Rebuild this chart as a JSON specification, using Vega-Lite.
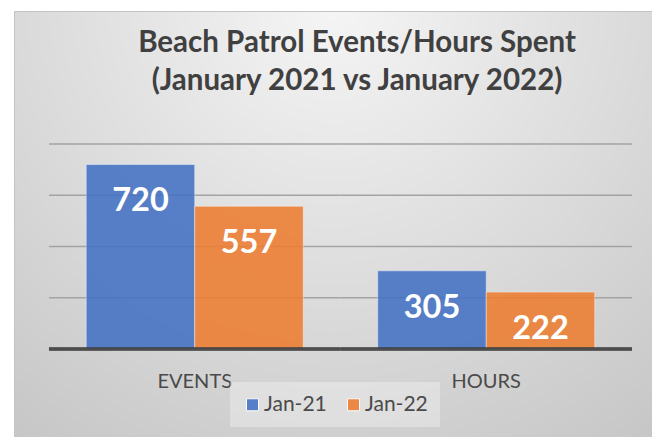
{
  "$schema": "https://vega.github.io/schema/vega-lite/v6.json",
  "width": 638,
  "height": 426,
  "autosize": {"type": "none"},
  "padding": {"left": 14, "top": 11, "right": 0, "bottom": 0},
  "background": "#ffffff",
  "config": {
    "font": "Lato",
    "view": {
      "fill": {
        "gradient": "radial",
        "x1": 0.5, "y1": 0.15, "r1": 0,
        "x2": 0.5, "y2": 0.15, "r2": 0.85,
        "stops": [
          {"offset": 0, "color": "#f5f5f5"},
          {"offset": 1, "color": "#c6c6c6"}
        ]
      },
      "stroke": "#c4c4c4",
      "strokeWidth": 1
    }
  },
  "title": {
    "text": ["Beach Patrol Events/Hours Spent", "(January 2021 vs January 2022)"],
    "frame": "group",
    "anchor": "middle",
    "orient": "top",
    "offset": -85,
    "dx": 24,
    "font": "Lato",
    "fontSize": 29.5,
    "fontWeight": "bold",
    "color": "#404040",
    "lineHeight": 38
  },
  "datasets": {
    "bars": [
      {"cat": "EVENTS", "series": "Jan-21", "value": 720},
      {"cat": "EVENTS", "series": "Jan-22", "value": 557},
      {"cat": "HOURS", "series": "Jan-21", "value": 305},
      {"cat": "HOURS", "series": "Jan-22", "value": 222}
    ],
    "grid": [
      {"cat": "EVENTS", "value": 200},
      {"cat": "EVENTS", "value": 400},
      {"cat": "EVENTS", "value": 600},
      {"cat": "EVENTS", "value": 800},
      {"cat": "HOURS", "value": 200},
      {"cat": "HOURS", "value": 400},
      {"cat": "HOURS", "value": 600},
      {"cat": "HOURS", "value": 800}
    ]
  },
  "data": {"name": "bars"},
  "encoding": {
    "x": {
      "field": "cat",
      "type": "nominal",
      "sort": ["EVENTS", "HOURS"],
      "scale": {"paddingInner": 0, "paddingOuter": 0.0943, "align": 0.636},
      "axis": {
        "orient": "bottom",
        "offset": -88,
        "domain": false,
        "ticks": false,
        "tickSize": 0,
        "grid": false,
        "labelAngle": 0,
        "labelPadding": 22,
        "labelFont": "Lato",
        "labelFontSize": 20,
        "labelColor": "#4a4a4a",
        "title": null
      }
    },
    "y": {
      "field": "value",
      "type": "quantitative",
      "scale": {"domain": [-343.4, 1319], "nice": false, "zero": false},
      "axis": null
    }
  },
  "layer": [
    {
      "data": {"name": "grid"},
      "mark": {"type": "tick", "orient": "horizontal", "size": 291.5, "thickness": 1.5, "color": "#a3a3a3", "opacity": 1}
    },
    {
      "mark": {"type": "bar", "opacity": 0.88, "stroke": "#ffffff", "strokeOpacity": 0.45, "strokeWidth": 1},
      "encoding": {
        "xOffset": {"field": "series", "type": "nominal", "scale": {"paddingInner": 0, "paddingOuter": 0.343}},
        "y2": {"datum": 0},
        "color": {
          "field": "series",
          "type": "nominal",
          "scale": {"domain": ["Jan-21", "Jan-22"], "range": ["#4472C4", "#ED7D31"]},
          "legend": {
            "title": null,
            "orient": "none",
            "direction": "horizontal",
            "legendX": 216,
            "legendY": 371,
            "padding": 12,
            "fillColor": "rgba(255,255,255,0.3)",
            "symbolType": "square",
            "symbolSize": 144,
            "symbolStrokeColor": "#ffffff",
            "symbolStrokeWidth": 1,
            "labelFont": "Lato",
            "labelFontSize": 21,
            "labelColor": "#4a4a4a",
            "labelOffset": 1,
            "columnPadding": 16
          }
        }
      }
    },
    {
      "mark": {"type": "text", "dy": 37, "color": "#ffffff", "fontWeight": "bold", "fontSize": 32.5, "font": "Lato", "baseline": "middle", "align": "center"},
      "encoding": {
        "xOffset": {"field": "series", "type": "nominal"},
        "text": {"field": "value", "type": "quantitative"}
      }
    },
    {
      "mark": {"type": "tick", "orient": "horizontal", "size": 291.5, "thickness": 3.5, "color": "#404040"},
      "encoding": {
        "y": {"datum": 0}
      }
    }
  ]
}
